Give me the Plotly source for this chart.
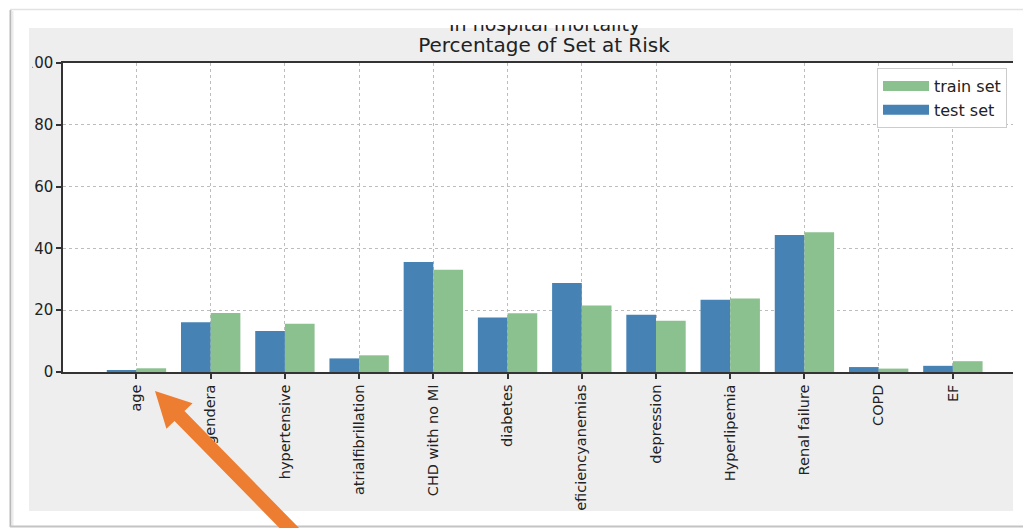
import plotly.graph_objects as go
import math

# ---- data ----
categories = ["age", "gendera", "hypertensive", "atrialfibrillation", "CHD with no MI",
              "diabetes", "deficiencyanemias", "depression", "Hyperlipemia",
              "Renal failure", "COPD", "EF"]
test_set = [0.6, 16.1, 13.3, 4.4, 35.6, 17.6, 28.8, 18.5, 23.4, 44.3, 1.6, 2.0]
train_set = [1.2, 19.1, 15.6, 5.4, 33.1, 19.0, 21.5, 16.6, 23.8, 45.2, 1.1, 3.5]
y_ticks = [0, 20, 40, 60, 80, 100]
title_line1 = "In hospital mortality"
title_line2 = "Percentage of Set at Risk"

# ---- geometry ----
W, H = 1023, 528
L, R, T, B = 63, 10, 63, 156
PW = W - L - R
PH = H - T - B


def px(x):
    return (x - L) / PW


def py(y):
    return (H - B - y) / PH


BLUE = "#4682b4"
GREEN = "#8bc08f"
ORANGE = "#ed7d31"
PANEL = "#eeeeee"
FONT = "DejaVu Sans"

idx = list(range(len(categories)))

fig = go.Figure()
fig.add_trace(go.Bar(x=idx, y=test_set, width=0.4, offset=-0.4, marker=dict(color=BLUE, line=dict(width=0)),
                     name="test set", showlegend=False))
fig.add_trace(go.Bar(x=idx, y=train_set, width=0.4, offset=0.0, marker=dict(color=GREEN, line=dict(width=0)),
                     name="train set", showlegend=False))
# legend entries (wide patches like matplotlib)
fig.add_trace(go.Scatter(x=[None], y=[None], mode="lines", line=dict(color=GREEN, width=10), name="train set"))
fig.add_trace(go.Scatter(x=[None], y=[None], mode="lines", line=dict(color=BLUE, width=10), name="test set"))

# arrow polygon (annotation graphic)
tip = (155.0, 391.0)
ux, uy = 126.7, 129.3
n = math.hypot(ux, uy)
ux, uy = ux / n, uy / n
nx, ny = -uy, ux
head_len, head_half, shaft_half, tail_len = 35.0, 18.3, 7.0, 210.0
bx, by = tip[0] + head_len * ux, tip[1] + head_len * uy
tx, ty = tip[0] + tail_len * ux, tip[1] + tail_len * uy
pts = [tip,
       (bx + head_half * nx, by + head_half * ny),
       (bx + shaft_half * nx, by + shaft_half * ny),
       (tx + shaft_half * nx, ty + shaft_half * ny),
       (tx - shaft_half * nx, ty - shaft_half * ny),
       (bx - shaft_half * nx, by - shaft_half * ny),
       (bx - head_half * nx, by - head_half * ny)]
path = "M " + " L ".join(f"{px(a):.5f},{py(b):.5f}" for a, b in pts) + " Z"

shapes = [
    # grey figure panel
    dict(type="rect", xref="paper", yref="paper", x0=px(29), x1=px(1013), y0=py(511), y1=py(28),
         fillcolor=PANEL, line=dict(width=0), layer="below"),
    # white axes area
    dict(type="rect", xref="paper", yref="paper", x0=0, x1=1, y0=0, y1=1,
         fillcolor="white", line=dict(width=0), layer="below"),
    # crop covers (screenshot cuts the panel edges)
    dict(type="rect", xref="paper", yref="paper", x0=px(12), x1=px(29), y0=py(80), y1=py(46),
         fillcolor="white", line=dict(width=0), layer="above"),
    dict(type="rect", xref="paper", yref="paper", x0=px(29), x1=px(32.4), y0=py(74), y1=py(52),
         fillcolor=PANEL, line=dict(width=0), layer="above"),
    dict(type="rect", xref="paper", yref="paper", x0=px(560), x1=px(605), y0=py(525), y1=py(511),
         fillcolor="white", line=dict(width=0), layer="above"),
    # card borders
    dict(type="line", xref="paper", yref="paper", x0=px(10.5), x1=px(10.5), y0=py(10), y1=py(527),
         line=dict(color="#b9b9b9", width=2), layer="above"),
    dict(type="line", xref="paper", yref="paper", x0=px(12.5), x1=px(12.5), y0=py(11), y1=py(526),
         line=dict(color="#ececec", width=2), layer="above"),
    dict(type="line", xref="paper", yref="paper", x0=px(10), x1=px(1023), y0=py(9.5), y1=py(9.5),
         line=dict(color="#e2e2e2", width=1.5), layer="above"),
    dict(type="line", xref="paper", yref="paper", x0=px(10), x1=px(1023), y0=py(526.5), y1=py(526.5),
         line=dict(color="#c4c4c4", width=2), layer="above"),
    # orange arrow
    dict(type="path", xref="paper", yref="paper", path=path, fillcolor=ORANGE, line=dict(width=0), layer="above"),
]

annotations = [
    dict(text=title_line1, xref="paper", yref="paper", x=px(544), y=py(24.5), xanchor="center", yanchor="middle",
         showarrow=False, font=dict(family=FONT, size=19, color="#222")),
    # white cover: the screenshot crops the top of the first title line
    dict(text=" ", xref="paper", yref="paper", x=px(300), y=py(11), xanchor="left", yanchor="top",
         width=500, height=14, bgcolor="white", borderpad=0, borderwidth=0, showarrow=False,
         font=dict(size=8)),
]

fig.update_layout(
    width=W, height=H,
    margin=dict(l=L, r=R, t=T, b=B, autoexpand=False),
    paper_bgcolor="white", plot_bgcolor="white",
    barmode="overlay",
    font=dict(family=FONT, color="#222"),
    title=dict(text=title_line2, xref="paper", x=px(544), xanchor="center",
               yref="paper", y=1, yanchor="bottom", pad=dict(b=11, t=0, l=0, r=0),
               font=dict(family=FONT, size=20, color="#222")),
    legend=dict(x=px(877), y=py(68), xanchor="left", yanchor="top", bgcolor="white",
                bordercolor="#cccccc", borderwidth=1, font=dict(family=FONT, size=16, color="#222"),
                itemwidth=46, tracegroupgap=0),
    shapes=shapes,
    annotations=annotations,
)

fig.update_xaxes(range=[-0.99, 11.81], tickmode="array", tickvals=idx, ticktext=categories, tickangle=-90,
                 showline=True, linecolor="#333333", linewidth=1.5, mirror=True,
                 ticks="outside", ticklen=5, tickwidth=1.5, tickcolor="#333333",
                 showgrid=True, gridcolor="#bdbdbd", griddash="dot", gridwidth=1, zeroline=False,
                 tickfont=dict(family=FONT, size=14.5, color="#222"))
fig.update_yaxes(range=[0, 100], tickmode="array", tickvals=y_ticks,
                 showline=True, linecolor="#333333", linewidth=1.5,
                 ticks="outside", ticklen=5, tickwidth=1.5, tickcolor="#333333",
                 showgrid=True, gridcolor="#bdbdbd", griddash="dot", gridwidth=1, zeroline=False,
                 tickfont=dict(family=FONT, size=15, color="#222"))

fig.write_html("out.html")
